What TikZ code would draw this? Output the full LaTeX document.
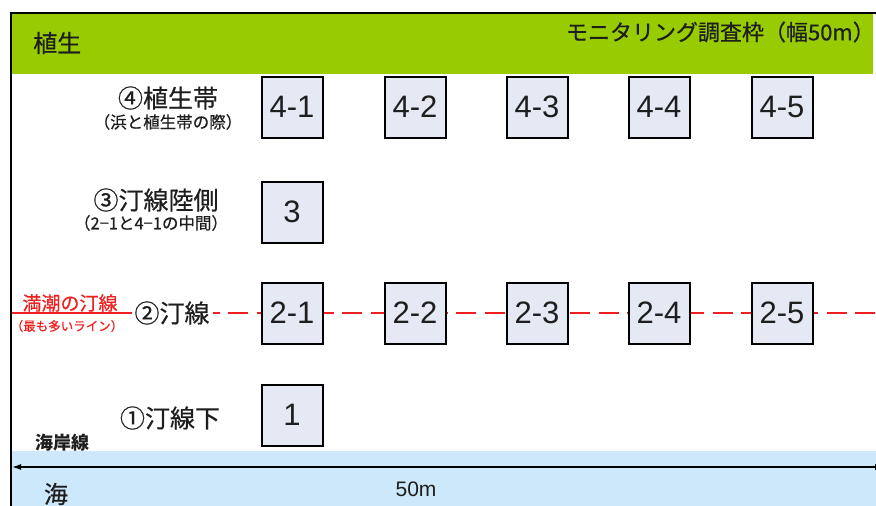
\documentclass[tikz,border=0pt]{standalone}
\usepackage{fontspec}
\newfontfamily\jp[FakeBold=0.6]{Noto Sans CJK JP}
\newfontfamily\jpplain{Noto Sans CJK JP}
\newfontfamily\arial{Liberation Sans}
\usetikzlibrary{arrows.meta}
\definecolor{greenband}{HTML}{99CC00}
\definecolor{seablue}{HTML}{CCE8FA}
\definecolor{boxfill}{HTML}{E4E9F4}
\definecolor{tidered}{HTML}{F02020}
\definecolor{txt}{HTML}{1E1E1E}
\tikzset{
  plot/.style={draw=black, line width=2pt, fill=boxfill, minimum size=61pt, inner sep=0pt,
    font=\arial\fontsize{31}{34}\selectfont, text=txt},
  biglbl/.style={inner sep=0pt, text=txt, font=\jp\fontsize{25}{28}\selectfont},
  smalllbl/.style={inner sep=0pt, text=txt, font=\jp\fontsize{16.5}{19}\selectfont},
  tideline/.style={draw=tidered, line width=2.6pt, dash pattern=on 20pt off 8.5pt, dash phase=4pt},
}
\begin{document}
\begin{tikzpicture}[x=1pt,y=-1pt]
\useasboundingbox (0,0) rectangle (876,506);
% bands
\fill[greenband] (11,13) rectangle (873,74);
\fill[seablue] (11,451) rectangle (876,506);
% red high-water label and tide line
\node[inner sep=0pt, text=tidered, font=\jp\fontsize{19}{22}\selectfont] (hw) at (70,303) {満潮の汀線};
\coordinate (tl) at (11,313);
\coordinate (tm) at (118,313);
\coordinate (tr) at (880,313);
\draw[draw=tidered, line width=2pt] (tl) -- (tm);
\draw[tideline] (tm) -- (tr);
% frame
\draw[line width=2.5pt, black] (11,510) -- (11,13) -- (880,13);
% width arrow
\coordinate (al) at (12,467);
\coordinate (ar) at (884,467);
\draw[line width=1.3pt, {Latex[length=9pt,width=6pt]}-{Latex[length=9pt,width=6pt]}] (al) -- (ar);
% plots
\node[plot] (b41) at (292,107) {4-1};
\node[plot] (b42) at (415,107) {4-2};
\node[plot] (b43) at (537,107) {4-3};
\node[plot] (b44) at (659,107) {4-4};
\node[plot] (b45) at (782,107) {4-5};
\node[plot] (b3) at (292,212) {3};
\node[plot] (b21) at (292,313) {2-1};
\node[plot] (b22) at (415,313) {2-2};
\node[plot] (b23) at (537,313) {2-3};
\node[plot] (b24) at (659,313) {2-4};
\node[plot] (b25) at (782,313) {2-5};
\node[plot] (b1) at (292,415) {1};
% labels
\node[biglbl, font=\jp\fontsize{24}{28}\selectfont, anchor=west] (veg) at (33,43) {植生};
\node[biglbl, font=\jp\fontsize{22}{26}\selectfont, anchor=east] (frame) at (875,32) {モニタリング調査枠（幅50m）};
\node[biglbl] (l4) at (168,98) {④植生帯};
\node[smalllbl] (l4s) at (168,122) {（浜と植生帯の際）};
\node[biglbl] (l3) at (156,200) {③汀線陸側};
\node[smalllbl] (l3s) at (151,223) {（2−1と4−1の中間）};
\node[biglbl, fill=white, inner xsep=3pt, inner ysep=2pt] (l2) at (172,313) {②汀線};
\node[inner sep=0pt, text=tidered, font=\jp\fontsize{12.5}{15}\selectfont] (hws) at (67,326) {（最も多いライン）};
\node[biglbl] (l1) at (170,418) {①汀線下};
\node[inner sep=0pt, text=txt, font=\jpplain\bfseries\fontsize{18}{21}\selectfont] (coast) at (62,443) {海岸線};
\node[inner sep=0pt, text=txt, font=\jp\fontsize{24}{28}\selectfont] (sea) at (56,494) {海};
\node[inner sep=0pt, text=txt, font=\arial\fontsize{21}{24}\selectfont] (w50) at (416,489) {50m};
\end{tikzpicture}
\end{document}
